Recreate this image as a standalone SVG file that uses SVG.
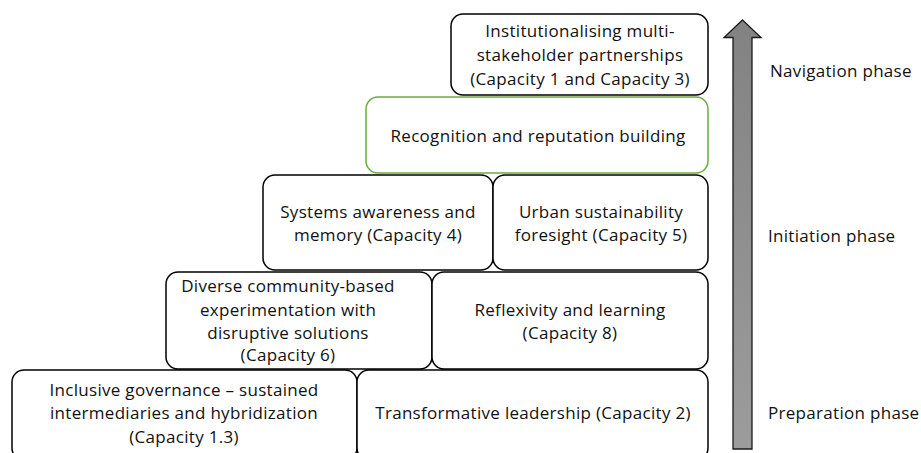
<svg xmlns="http://www.w3.org/2000/svg" width="921" height="453" viewBox="0 0 921 453">
  <style>
    .box { fill: #ffffff; stroke: #000000; stroke-width: 1.5; }
    .green { fill: #ffffff; stroke: #6aad3d; stroke-width: 1.5; }
    text { font-family: "Open Sans", "Liberation Sans", Arial, sans-serif; font-size: 17px; letter-spacing: 0.3px; fill: #111111; }
    .c { text-anchor: middle; }
  </style>
  <defs>
    <linearGradient id="shaft" x1="0" y1="0" x2="0" y2="1">
      <stop offset="0" stop-color="#828282"/>
      <stop offset="1" stop-color="#9c9c9c"/>
    </linearGradient>
  </defs>

  <!-- progression arrow -->
  <g id="arrow">
    <path d="M742.5,20 L761,37.5 L752,37.5 L752,449 L733,449 L733,37.5 L724,37.5 Z" fill="url(#shaft)" stroke="#1a1a1a" stroke-width="1.3" stroke-linejoin="miter"/>
  </g>

  <!-- phase labels -->
  <g id="phases">
    <text x="770" y="77">Navigation phase</text>
    <text x="768" y="242">Initiation phase</text>
    <text x="768" y="419">Preparation phase</text>
  </g>

  <g id="connectors"></g>

  <!-- level 5 -->
  <g id="n-partnerships">
    <rect class="box" x="451" y="14" width="257" height="81" rx="12"/>
    <text class="c" x="580" y="37">Institutionalising multi-</text>
    <text class="c" x="580" y="61">stakeholder partnerships</text>
    <text class="c" x="580" y="85">(Capacity 1 and Capacity 3)</text>
  </g>

  <!-- level 4 -->
  <g id="n-recognition">
    <rect class="green" x="366" y="97" width="342" height="76" rx="12"/>
    <text class="c" x="538" y="142">Recognition and reputation building</text>
  </g>

  <!-- level 3 -->
  <g id="n-systems">
    <rect class="box" x="263" y="175" width="230" height="95" rx="12"/>
    <text class="c" x="378" y="218">Systems awareness and</text>
    <text class="c" x="378" y="241">memory (Capacity 4)</text>
  </g>
  <g id="n-foresight">
    <rect class="box" x="493" y="175" width="215" height="95" rx="12"/>
    <text class="c" x="601" y="218">Urban sustainability</text>
    <text class="c" x="601" y="241">foresight (Capacity 5)</text>
  </g>

  <!-- level 2 -->
  <g id="n-experimentation">
    <rect class="box" x="166" y="272" width="266" height="97" rx="12"/>
    <text class="c" x="288" y="292">Diverse community-based</text>
    <text class="c" x="288" y="316">experimentation with</text>
    <text class="c" x="288" y="339">disruptive solutions</text>
    <text class="c" x="288" y="361">(Capacity 6)</text>
  </g>
  <g id="n-reflexivity">
    <rect class="box" x="432" y="272" width="276" height="97" rx="12"/>
    <text class="c" x="570" y="316">Reflexivity and learning</text>
    <text class="c" x="570" y="339">(Capacity 8)</text>
  </g>

  <!-- level 1 -->
  <g id="n-governance">
    <rect class="box" x="12" y="370" width="345" height="90" rx="12"/>
    <text class="c" x="184" y="396">Inclusive governance – sustained</text>
    <text class="c" x="184" y="419">intermediaries and hybridization</text>
    <text class="c" x="184" y="443">(Capacity 1.3)</text>
  </g>
  <g id="n-leadership">
    <rect class="box" x="357" y="370" width="351" height="90" rx="12"/>
    <text class="c" x="533" y="419">Transformative leadership (Capacity 2)</text>
  </g>
</svg>
